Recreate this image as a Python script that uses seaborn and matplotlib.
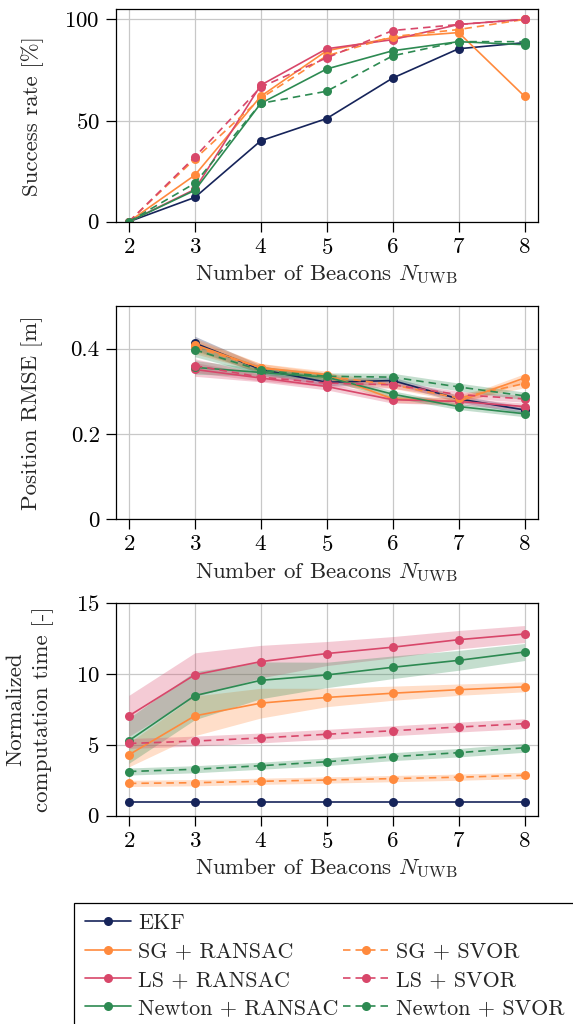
import numpy as np
import pandas as pd
import matplotlib
matplotlib.use("Agg")
import matplotlib.pyplot as plt
from matplotlib.lines import Line2D
from matplotlib.patches import Rectangle
import seaborn as sns

# ---------------- data ----------------
beacons = [2, 3, 4, 5, 6, 7, 8]
methods = ["EKF", "SG + RANSAC", "LS + RANSAC", "Newton + RANSAC",
           "SG + SVOR", "LS + SVOR", "Newton + SVOR"]

success_ekf = [0, 12, 40, 51, 71, 85.5, 88.5]
success_sg_ransac = [0, 23, 62, 84.5, 91, 93.5, 62]
success_ls_ransac = [0, 16, 67.5, 85.5, 90, 97.5, 100]
success_newton_ransac = [0, 15.5, 58.5, 75.5, 84.5, 89, 87.5]
success_sg_svor = [0, 31, 61, 82, 91.5, 95, 100]
success_ls_svor = [0, 32, 66.5, 81, 94.5, 97.5, 100]
success_newton_svor = [0, 19, 58.5, 64.5, 82, 89, 89]

rmse_ekf = [np.nan, 0.413, 0.351, 0.321, 0.325, 0.282, 0.256]
rmse_sg_ransac = [np.nan, 0.409, 0.355, 0.339, 0.282, 0.276, 0.331]
rmse_ls_ransac = [np.nan, 0.351, 0.331, 0.311, 0.280, 0.276, 0.264]
rmse_newton_ransac = [np.nan, 0.356, 0.344, 0.333, 0.293, 0.264, 0.247]
rmse_sg_svor = [np.nan, 0.404, 0.355, 0.335, 0.315, 0.284, 0.318]
rmse_ls_svor = [np.nan, 0.360, 0.333, 0.319, 0.315, 0.292, 0.282]
rmse_newton_svor = [np.nan, 0.397, 0.349, 0.335, 0.333, 0.310, 0.289]

rmse_std_ekf = [np.nan, 0.016, 0.010, 0.008, 0.008, 0.008, 0.008]
rmse_std_sg_ransac = [np.nan, 0.016, 0.010, 0.008, 0.008, 0.008, 0.010]
rmse_std_ls_ransac = [np.nan, 0.016, 0.009, 0.008, 0.008, 0.008, 0.008]
rmse_std_newton_ransac = [np.nan, 0.016, 0.009, 0.008, 0.008, 0.007, 0.007]
rmse_std_sg_svor = [np.nan, 0.016, 0.010, 0.008, 0.008, 0.008, 0.010]
rmse_std_ls_svor = [np.nan, 0.016, 0.009, 0.008, 0.008, 0.008, 0.008]
rmse_std_newton_svor = [np.nan, 0.016, 0.009, 0.008, 0.009, 0.009, 0.009]

time_ekf = [1, 1, 1, 1, 1, 1, 1]
time_sg_ransac = [4.3, 7.05, 7.95, 8.35, 8.65, 8.9, 9.1]
time_ls_ransac = [7.05, 9.95, 10.88, 11.45, 11.9, 12.43, 12.83]
time_newton_ransac = [5.3, 8.48, 9.56, 9.94, 10.48, 10.97, 11.56]
time_sg_svor = [2.28, 2.33, 2.43, 2.52, 2.62, 2.72, 2.85]
time_ls_svor = [5.1, 5.27, 5.49, 5.75, 6.0, 6.26, 6.5]
time_newton_svor = [3.12, 3.28, 3.53, 3.81, 4.17, 4.45, 4.8]

time_std_ekf = [0, 0, 0, 0, 0, 0, 0]
time_std_sg_ransac = [0.85, 1.4, 1.05, 0.65, 0.5, 0.4, 0.35]
time_std_ls_ransac = [1.45, 1.55, 1.15, 0.85, 0.75, 0.65, 0.6]
time_std_newton_ransac = [1.6, 1.7, 1.3, 0.9, 0.8, 0.7, 0.6]
time_std_sg_svor = [0.22, 0.22, 0.22, 0.22, 0.22, 0.22, 0.22]
time_std_ls_svor = [0.35, 0.35, 0.35, 0.35, 0.35, 0.35, 0.35]
time_std_newton_svor = [0.25, 0.25, 0.25, 0.27, 0.28, 0.3, 0.32]

success = [success_ekf, success_sg_ransac, success_ls_ransac, success_newton_ransac,
           success_sg_svor, success_ls_svor, success_newton_svor]
rmse = [rmse_ekf, rmse_sg_ransac, rmse_ls_ransac, rmse_newton_ransac,
        rmse_sg_svor, rmse_ls_svor, rmse_newton_svor]
rmse_std = [rmse_std_ekf, rmse_std_sg_ransac, rmse_std_ls_ransac, rmse_std_newton_ransac,
            rmse_std_sg_svor, rmse_std_ls_svor, rmse_std_newton_svor]
times = [time_ekf, time_sg_ransac, time_ls_ransac, time_newton_ransac,
         time_sg_svor, time_ls_svor, time_newton_svor]
times_std = [time_std_ekf, time_std_sg_ransac, time_std_ls_ransac, time_std_newton_ransac,
             time_std_sg_svor, time_std_ls_svor, time_std_newton_svor]

# ---------------- style ----------------
NAVY = "#16245a"
ORANGE = "#ff8a3d"
PINK = "#d8476a"
GREEN = "#2d8a52"
colors = [NAVY, ORANGE, PINK, GREEN, ORANGE, PINK, GREEN]
dashed = (0, (4.5, 3))
styles = ["-", "-", "-", "-", dashed, dashed, dashed]

sns.set_theme(style="ticks")
plt.rcParams["font.family"] = ["cmr10", "DejaVu Serif"]
plt.rcParams["mathtext.fontset"] = "cm"
plt.rcParams["axes.formatter.use_mathtext"] = True
FS = 16.5
LFS = 15.9
plt.rcParams["font.size"] = FS

fig = plt.figure(figsize=(5.73, 10.24), dpi=100)
W, H = 573.0, 1024.0
L, R = 115.7, 537.7
panels = [(9.3, 221.7), (306.0, 519.0), (603.3, 815.7)]
axes = []
for top, bot in panels:
    ax = fig.add_axes([L / W, 1 - bot / H, (R - L) / W, (bot - top) / H])
    axes.append(ax)


def style_axis(ax):
    ax.set_xlim(1.8, 8.2)
    ax.set_xticks(beacons)
    ax.grid(True, color="#c8c8c8", linewidth=0.9)
    ax.set_axisbelow(True)
    for s in ax.spines.values():
        s.set_color("black")
        s.set_linewidth(0.9)
    ax.tick_params(axis="both", direction="out", length=7, width=0.9,
                   labelsize=FS, pad=4.5, colors="black", left=True, bottom=True)
    ax.set_xlabel(r"Number of Beacons $N_{\mathrm{UWB}}$", fontsize=FS, labelpad=3.5)


def draw(ax, ys, stds=None):
    for i in range(len(methods)):
        if stds is not None and np.nanmax(stds[i]) > 0:
            lo = np.array(ys[i]) - np.array(stds[i])
            hi = np.array(ys[i]) + np.array(stds[i])
            ax.fill_between(beacons, lo, hi, color=colors[i], alpha=0.28,
                            linewidth=0)
    for i in range(len(methods)):
        df = pd.DataFrame({"x": beacons, "y": ys[i]}).dropna()
        sns.lineplot(data=df, x="x", y="y", ax=ax, color=colors[i],
                     linestyle=styles[i], linewidth=1.2, marker="o",
                     markersize=6.5, markeredgewidth=0, errorbar=None,
                     legend=False)
    ax.set_ylabel("")
    ax.set_xlabel("")


draw(axes[0], success)
draw(axes[1], rmse, rmse_std)
draw(axes[2], times, times_std)

for ax in axes:
    style_axis(ax)

axes[0].set_ylim(0, 105)
axes[0].set_yticks([0, 50, 100])
axes[0].set_ylabel("Success rate [%]", fontsize=FS, va="center")
axes[0].yaxis.set_label_coords(-0.198, 0.5)

axes[1].set_ylim(0, 0.5)
axes[1].set_yticks([0, 0.2, 0.4])
axes[1].set_yticklabels(["0", "0.2", "0.4"])
axes[1].set_ylabel("Position RMSE [m]", fontsize=FS, va="center")
axes[1].yaxis.set_label_coords(-0.198, 0.5)

axes[2].set_ylim(0, 15)
axes[2].set_yticks([0, 5, 10, 15])
axes[2].set_ylabel("Normalized\ncomputation time [-]", fontsize=FS, va="center",
                   linespacing=1.45)
axes[2].yaxis.set_label_coords(-0.203, 0.5)

# ---------------- legend ----------------
handles = []
for i in range(len(methods)):
    handles.append(Line2D([], [], color=colors[i], linestyle=styles[i],
                          linewidth=1.2, marker="o", markersize=6.5,
                          markeredgewidth=0))
blank = Rectangle((0, 0), 1, 1, fill=False, edgecolor="none", visible=False)
leg_handles = handles[:4] + [blank] + handles[4:]
leg_labels = methods[:4] + [" "] + methods[4:]
leg = fig.legend(leg_handles, leg_labels, loc="upper left",
                 bbox_to_anchor=(74 / W, 1 - 902.5 / H), ncol=2,
                 fontsize=LFS, frameon=True, fancybox=False, framealpha=1,
                 edgecolor="black", borderpad=0.5, handlelength=2.1,
                 handletextpad=0.3, columnspacing=0.2, labelspacing=0.4,
                 borderaxespad=0)
leg.get_frame().set_linewidth(0.9)

fig.savefig("out.png", dpi=100)
